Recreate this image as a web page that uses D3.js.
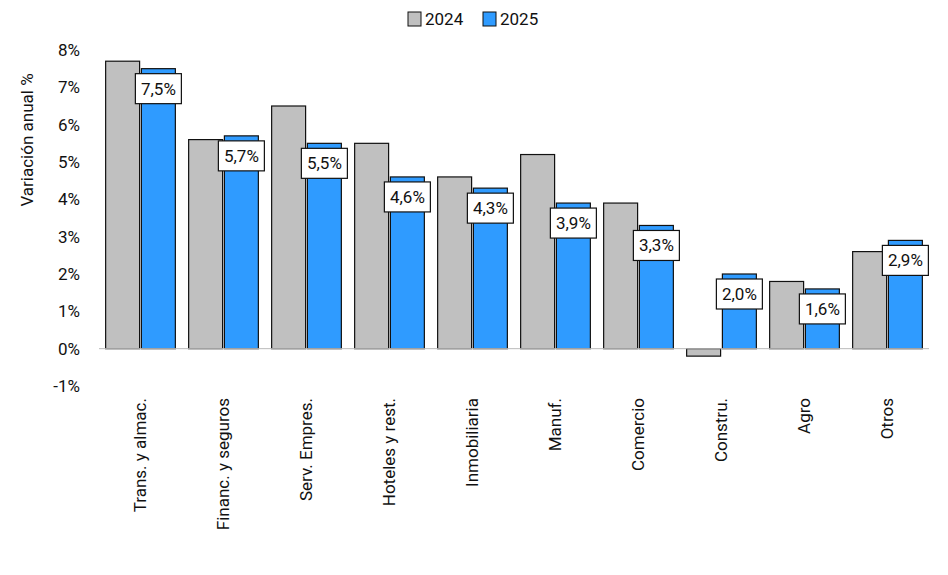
<!DOCTYPE html>
<html><head><meta charset="utf-8">
<script src="https://cdn.jsdelivr.net/npm/d3@7"></script>
<style>body{margin:0;background:#fff}text{font-family:Roboto,sans-serif;fill:#111}</style>
</head><body>
<svg id="c" width="948" height="575"></svg>
<script>
const categories = ["Trans. y almac.", "Financ. y seguros", "Serv. Empres.", "Hoteles y rest.", "Inmobiliaria", "Manuf.", "Comercio", "Constru.", "Agro", "Otros"];
const v2024 = [7.7, 5.6, 6.5, 5.5, 4.6, 5.2, 3.9, -0.2, 1.8, 2.6];
const v2025 = [7.5, 5.7, 5.5, 4.6, 4.3, 3.9, 3.3, 2.0, 1.6, 2.9];
const yTicks = [-1, 0, 1, 2, 3, 4, 5, 6, 7, 8];

const svg = d3.select("#c");
const x = d3.scaleBand().domain(categories).range([99, 929]).paddingInner(0.16).paddingOuter(0.08);
const y = d3.scaleLinear().domain([-1, 8]).range([386, 50]);
const sub = d3.scaleBand().domain(["a", "b"]).range([0, x.bandwidth()]).paddingInner(0.05);
const fmt = v => d3.format(".1f")(v).replace(".", ",") + "%";

// y tick labels
svg.append("g").selectAll("text").data(yTicks).join("text")
  .attr("x", 80).attr("y", d => y(d)).attr("dy", "0.35em")
  .attr("text-anchor", "end").attr("font-size", 17).text(d => d + "%");

svg.append("text").attr("transform", "translate(33,140) rotate(-90)")
  .attr("text-anchor", "middle").attr("font-size", 17).text("Variación anual %");

const g = svg.append("g").selectAll("g").data(categories).join("g")
  .attr("transform", d => `translate(${x(d)},0)`);

g.append("rect").attr("x", sub("a")).attr("width", sub.bandwidth())
  .attr("y", (d, i) => y(Math.max(0, v2024[i]))).attr("height", (d, i) => Math.abs(y(v2024[i]) - y(0)))
  .attr("fill", "#c0c0c0").attr("stroke", "#111").attr("stroke-width", 1.2);
g.append("rect").attr("x", sub("b")).attr("width", sub.bandwidth())
  .attr("y", (d, i) => y(Math.max(0, v2025[i]))).attr("height", (d, i) => Math.abs(y(v2025[i]) - y(0)))
  .attr("fill", "#2f9bff").attr("stroke", "#111").attr("stroke-width", 1.2);

// zero line
svg.append("line").attr("x1", 99).attr("x2", 929).attr("y1", y(0)).attr("y2", y(0))
  .attr("stroke", "#bbb").attr("stroke-width", 1);

// value labels
const lab = g.append("g").attr("transform", (d, i) => `translate(${sub("b") + sub.bandwidth() / 2},${y(v2025[i]) + 5})`);
lab.append("rect").attr("x", -23).attr("width", 46).attr("height", 30)
  .attr("fill", "#fff").attr("stroke", "#111").attr("stroke-width", 1.2);
lab.append("text").attr("y", 15).attr("dy", "0.35em").attr("text-anchor", "middle")
  .attr("font-size", 17).text((d, i) => fmt(v2025[i]));

// category labels
g.append("text").attr("transform", `translate(${x.bandwidth() / 2},398) rotate(-90)`)
  .attr("dy", "0.35em").attr("text-anchor", "end").attr("font-size", 17).text(d => d);

// legend
const leg = [["2024", "#c0c0c0", 408], ["2025", "#2f9bff", 483]];
const lg = svg.append("g").selectAll("g").data(leg).join("g").attr("transform", d => `translate(${d[2]},19)`);
lg.append("rect").attr("y", -7).attr("width", 13).attr("height", 14).attr("fill", d => d[1]).attr("stroke", "#111");
lg.append("text").attr("x", 17).attr("dy", "0.35em").attr("font-size", 17).text(d => d[0]);
</script>
</body></html>
